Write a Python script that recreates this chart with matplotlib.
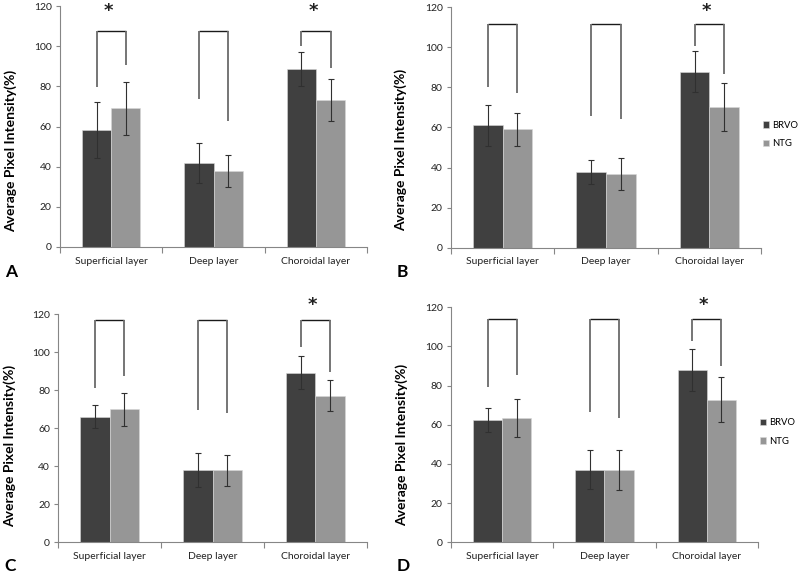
import matplotlib
matplotlib.use("Agg")
import matplotlib.pyplot as plt
import numpy as np

categories = ['Superficial layer', 'Deep layer', 'Choroidal layer']
series_names = ['BRVO', 'NTG']
panel_letters = ['A', 'B', 'C', 'D']

brvo_A = [58.3, 42.0, 88.5]
brvo_err_A = [14.0, 10.0, 8.5]
ntg_A = [69.0, 38.0, 73.1]
ntg_err_A = [13.2, 8.0, 10.5]

brvo_B = [61.0, 37.8, 87.8]
brvo_err_B = [10.0, 6.0, 10.2]
ntg_B = [59.0, 37.0, 70.2]
ntg_err_B = [8.0, 8.0, 12.0]

brvo_C = [66.1, 38.0, 89.3]
brvo_err_C = [6.0, 9.0, 8.8]
ntg_C = [70.0, 37.7, 77.2]
ntg_err_C = [8.7, 8.0, 8.4]

brvo_D = [62.6, 37.1, 88.0]
brvo_err_D = [6.2, 10.0, 10.9]
ntg_D = [63.5, 36.9, 72.7]
ntg_err_D = [9.5, 10.0, 11.5]

bracket_top = [107.5, 111.5, 117.2, 113.9]
bracket_left_A = [79.5, 73.5, 100.0]
bracket_right_A = [90.6, 62.7, 89.0]
bracket_left_B = [80.2, 65.8, 100.5]
bracket_right_B = [77.0, 64.3, 86.5]
bracket_left_C = [81.2, 69.8, 102.6]
bracket_right_C = [87.7, 68.0, 89.6]
bracket_left_D = [79.1, 66.4, 102.8]
bracket_right_D = [85.4, 63.3, 90.0]

significant_A = [True, False, True]
significant_B = [False, False, True]
significant_C = [False, False, True]
significant_D = [False, False, True]
star_height = [117.6, 118.3, 124.7, 121.0]

y_ticks = [0, 20, 40, 60, 80, 100, 120]

panels = [
    (brvo_A, brvo_err_A, ntg_A, ntg_err_A, bracket_left_A, bracket_right_A, significant_A),
    (brvo_B, brvo_err_B, ntg_B, ntg_err_B, bracket_left_B, bracket_right_B, significant_B),
    (brvo_C, brvo_err_C, ntg_C, ntg_err_C, bracket_left_C, bracket_right_C, significant_C),
    (brvo_D, brvo_err_D, ntg_D, ntg_err_D, bracket_left_D, bracket_right_D, significant_D),
]

# axes rectangles [left, bottom, width, height] in figure fractions
rects = [
    [0.075, 0.5697, 0.384, 0.4198],
    [0.5637, 0.5685, 0.3876, 0.4188],
    [0.0729, 0.0557, 0.3855, 0.3967],
    [0.5637, 0.0552, 0.3838, 0.4094],
]
letter_pos = [(0.006, 0.5174), (0.496, 0.5174), (0.005, 0.0), (0.496, 0.0)]
letter_va = ['baseline', 'baseline', 'bottom', 'bottom']
label_coords = [(-0.140, 0.40), (-0.141, 0.406), (-0.138, 0.42), (-0.141, 0.414)]
show_legend = [False, True, False, True]

dark = '#404040'
light = '#969696'
axis_gray = '#868686'
font = ['Lato', 'DejaVu Sans']

fig = plt.figure(figsize=(8.0, 5.74), dpi=100)
fig.patch.set_facecolor('white')

w = 1.0 / 3.5
x = np.arange(len(categories))
for i, (b, be, n, ne, bl, br, sig) in enumerate(panels):
    ax = fig.add_axes(rects[i])
    ax.bar(x - w / 2, b, width=w, color=dark, edgecolor='#d8d8d8', linewidth=0.4,
           label=series_names[0], zorder=2)
    ax.bar(x + w / 2, n, width=w, color=light, edgecolor='#d8d8d8', linewidth=0.4,
           label=series_names[1], zorder=2)
    ax.errorbar(x - w / 2, b, yerr=be, fmt='none', ecolor='#303030', elinewidth=0.8,
                capsize=1.9, capthick=0.8, zorder=3)
    ax.errorbar(x + w / 2, n, yerr=ne, fmt='none', ecolor='#303030', elinewidth=0.8,
                capsize=1.9, capthick=0.8, zorder=3)
    top = bracket_top[i]
    for k in range(len(categories)):
        xl = x[k] - w / 2
        xr = x[k] + w / 2
        ax.plot([xl, xr], [top, top], color='#1a1a1a', lw=1.0, zorder=4, clip_on=False,
                solid_capstyle='butt')
        ax.plot([xl, xl], [bl[k], top], color='#6a6a6a', lw=1.3, zorder=4, clip_on=False,
                solid_capstyle='butt')
        ax.plot([xr, xr], [br[k], top], color='#6a6a6a', lw=1.3, zorder=4, clip_on=False,
                solid_capstyle='butt')
        if sig[k]:
            ax.text(x[k] - 0.03, star_height[i], '*', ha='center', va='center',
                    fontsize=13, fontweight='bold', color='#202020', clip_on=False,
                    family=['DejaVu Sans'])
    ax.set_xlim(-0.5, 2.5)
    ax.set_ylim(0, 120)
    ax.set_yticks(y_ticks)
    ax.set_yticklabels([str(t) for t in y_ticks], family=font, fontsize=7.5, color='#222222')
    ax.set_xticks(x)
    ax.set_xticklabels(categories, family=font, fontsize=7.5, color='#222222')
    ax.set_xticks([-0.5, 0.5, 1.5, 2.5], minor=True)
    ax.tick_params(axis='x', which='major', length=0, pad=7)
    ax.tick_params(axis='x', which='minor', length=4, color=axis_gray, width=0.8)
    ax.tick_params(axis='y', length=3, color=axis_gray, width=0.8, pad=3)
    for s in ['top', 'right']:
        ax.spines[s].set_visible(False)
    for s in ['left', 'bottom']:
        ax.spines[s].set_color(axis_gray)
        ax.spines[s].set_linewidth(0.8)
    ax.set_ylabel('Average Pixel Intensity(%)', family=font, fontsize=10,
                  fontweight='bold')
    ax.yaxis.set_label_coords(*label_coords[i])
    if show_legend[i]:
        ax.legend(loc='center left', bbox_to_anchor=(1.005, 0.47), frameon=False,
                  prop={'family': font, 'size': 6.8}, handlelength=0.7, handleheight=0.7,
                  handletextpad=0.3, labelspacing=1.0, borderaxespad=0, borderpad=0)
    fig.text(letter_pos[i][0], letter_pos[i][1], panel_letters[i], family=font,
             fontsize=12.5, fontweight='bold', ha='left', va=letter_va[i])

fig.savefig('out.png', dpi=100, facecolor='white')
